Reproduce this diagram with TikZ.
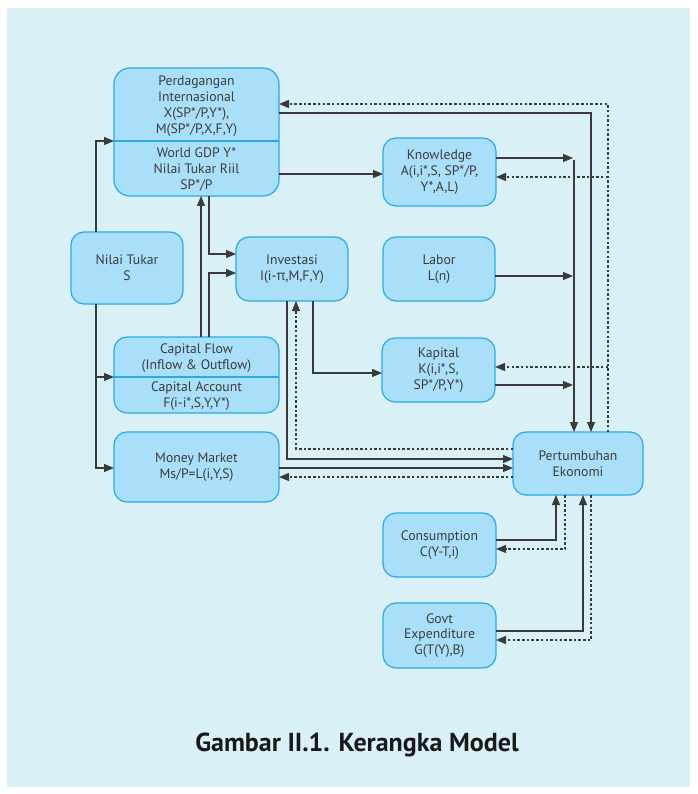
\documentclass[tikz,border=0pt]{standalone}
\usepackage{fontspec}
\setmainfont{PT Sans}
\newfontfamily\grk{Open Sans}
\usetikzlibrary{arrows.meta}
\definecolor{bgc}{HTML}{DAF0F7}
\definecolor{boxfill}{HTML}{A9DFF8}
\definecolor{boxline}{HTML}{29ABE2}
\definecolor{ln}{HTML}{3A3A3A}
\definecolor{txtc}{HTML}{3C3C3C}
\begin{document}
\begin{tikzpicture}[x=1pt,y=-1pt,
  box/.style={draw=boxline, fill=boxfill, line width=1.2pt, rounded corners=13pt,
    inner sep=0pt, outer sep=0pt, align=center, text=txtc,
    font=\fontsize{13.7}{15.8}\selectfont},
  txt/.style={align=center, text=txtc, inner sep=0pt, font=\fontsize{13.7}{15.8}\selectfont},
  divline/.style={draw=boxline, line width=1.2pt},
  arr/.style={draw=ln, line width=1.1pt, -{Triangle[length=10pt,width=8pt]}},
  darr/.style={arr, dash pattern=on 2.5pt off 2.2pt},
  plain/.style={draw=ln, line width=1.1pt}
]
\useasboundingbox (0,0) rectangle (697,794);
\fill[white] (0,0) rectangle (697,794);
\fill[bgc] (7,8) rectangle (690,787);

% helper coordinates (x positions)
\coordinate (nx) at (96,0);
\coordinate (cf1) at (201,0);
\coordinate (cf2) at (209,0);
\coordinate (inv1) at (287,0);
\coordinate (inv2) at (296,0);
\coordinate (inv3) at (313,0);
\coordinate (bus1) at (574,0);
\coordinate (bus2) at (591,0);
\coordinate (bus3) at (608,0);
\coordinate (pb1) at (556,0);
\coordinate (pb2) at (565,0);
\coordinate (pb3) at (583,0);
\coordinate (pb4) at (591,0);
% helper coordinates (y levels)
\coordinate (ydiv) at (0,141);
\coordinate (ycfdiv) at (0,377);
\coordinate (y104) at (0,104);
\coordinate (y113) at (0,113);
\coordinate (y158) at (0,158);
\coordinate (y160) at (0,160);
\coordinate (y174) at (0,174);
\coordinate (y177) at (0,177);
\coordinate (y254) at (0,254);
\coordinate (y273) at (0,273);
\coordinate (y276) at (0,276);
\coordinate (y367) at (0,367);
\coordinate (y373) at (0,373);
\coordinate (y385) at (0,385);
\coordinate (y449) at (0,449);
\coordinate (y459) at (0,459);
\coordinate (y468) at (0,468);
\coordinate (y477) at (0,477);
\coordinate (y540) at (0,540);
\coordinate (y549) at (0,549);
\coordinate (y631) at (0,631);
\coordinate (y640) at (0,640);

% boxes
\node[box, minimum width=165pt, minimum height=128pt, rounded corners=16pt] (perd) at (196.5,132) {};
\draw[divline] (perd.west |- ydiv) -- (perd.east |- ydiv);
\node[txt] (perdA) at (196.5,106) {Perdagangan\\Internasional\\X(SP*/P,Y*),\\M(SP*/P,X,F,Y)};
\node[txt] (perdB) at (196.5,169.5) {World GDP Y*\\Nilai Tukar Riil\\SP*/P};

\node[box, minimum width=113pt, minimum height=68pt] (know) at (439.5,172) {Knowledge\\A(i,i*,S, SP*/P,\\Y*,A,L)};
\node[box, minimum width=112pt, minimum height=72pt] (nilai) at (127,268) {Nilai Tukar\\S};
\node[box, minimum width=112pt, minimum height=64pt] (inv) at (292,269) {Investasi\\I(i-{\grk π},M,F,Y)};
\node[box, minimum width=112pt, minimum height=64pt] (labor) at (439,269) {Labor\\L(n)};

\node[box, minimum width=165pt, minimum height=76pt] (cflow) at (196.5,375) {};
\draw[divline] (cflow.west |- ycfdiv) -- (cflow.east |- ycfdiv);
\node[txt] (cflowA) at (196.5,358.5) {Capital Flow\\(Inflow \& Outflow)};
\node[txt] (cflowB) at (196.5,396) {Capital Account\\F(i-i*,S,Y,Y*)};

\node[box, minimum width=113pt, minimum height=64pt] (kap) at (438.5,370) {Kapital\\K(i,i*,S,\\SP*/P,Y*)};
\node[box, minimum width=165pt, minimum height=70pt] (money) at (196.5,467) {Money Market\\Ms/P=L(i,Y,S)};
\node[box, minimum width=130pt, minimum height=63pt] (pert) at (578,463.5) {Pertumbuhan\\Ekonomi};
\node[box, minimum width=113pt, minimum height=64pt] (cons) at (439.5,545) {Consumption\\C(Y-T,i)};
\node[box, minimum width=113pt, minimum height=65pt] (govt) at (439.5,635.5) {Govt\\Expenditure\\G(T(Y),B)};

\node[font=\bfseries\fontsize{26}{30}\selectfont, text=black!90] (cap) at (357,745) {Gambar II.1. Kerangka Model};

% connectors
\draw[arr] (nilai.north -| nx) |- (perd.west |- ydiv);
\draw[arr] (nilai.south -| nx) |- (cflow.west |- ycfdiv);
\draw[arr] (nilai.south -| nx) |- (money.west |- y468);

\draw[arr] (perd.east |- y174) -- (know.west |- y174);
\draw[arr] (perd.east |- y113) -| (pert.north -| bus2);
\draw[darr] (pert.north -| bus3) |- (perd.east |- y104);
\draw[darr] (bus3 |- y177) -- (know.east |- y177);
\draw[arr, shorten >=1pt] (know.east |- y158) -- (bus1 |- y158);
\draw[arr] (bus1 |- y160) -- (pert.north -| bus1);
\draw[arr, shorten >=1pt] (labor.east |- y276) -- (bus1 |- y276);
\draw[darr] (bus3 |- y367) -- (kap.east |- y367);
\draw[arr, shorten >=1pt] (kap.east |- y385) -- (bus1 |- y385);

\draw[arr] (inv.south -| inv3) |- (kap.west |- y373);
\draw[darr] (pert.west |- y449) -| (inv.south -| inv2);
\draw[arr] (inv.south -| inv1) |- (pert.west |- y459);
\draw[arr] (money.east |- y468) -- (pert.west |- y468);
\draw[darr] (pert.west |- y477) -- (money.east |- y477);

\draw[arr] (cflow.north -| cf1) -- (perd.south -| cf1);
\draw[arr] (perd.south -| cf2) |- (inv.west |- y254);
\draw[arr] (cflow.north -| cf2) |- (inv.west |- y273);

\draw[arr] (cons.east |- y540) -| (pert.south -| pb1);
\draw[darr] (pert.south -| pb2) |- (cons.east |- y549);
\draw[arr] (govt.east |- y631) -| (pert.south -| pb3);
\draw[darr] (pert.south -| pb4) |- (govt.east |- y640);
\end{tikzpicture}
\end{document}
